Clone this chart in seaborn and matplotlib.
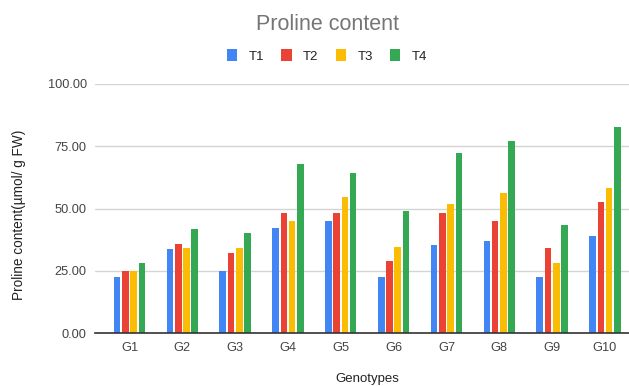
import matplotlib
matplotlib.use("Agg")
import matplotlib.pyplot as plt
import seaborn as sns
import pandas as pd

genotypes = ["G1", "G2", "G3", "G4", "G5", "G6", "G7", "G8", "G9", "G10"]
treatments = ["T1", "T2", "T3", "T4"]
t1 = [22.5, 33.7, 25.1, 42.1, 44.9, 22.5, 35.6, 36.9, 22.5, 39.0]
t2 = [25.1, 35.7, 32.4, 48.4, 48.1, 28.9, 48.1, 44.9, 34.1, 52.5]
t3 = [25.1, 34.1, 34.1, 44.9, 54.8, 34.5, 51.7, 56.1, 28.3, 58.3]
t4 = [28.3, 41.7, 40.1, 68.0, 64.2, 48.9, 72.3, 77.3, 43.6, 82.6]
yticks = [0, 25, 50, 75, 100]

colors = ["#4285F4", "#EA4335", "#FBBC04", "#34A853"]

df = pd.DataFrame({
    "Genotype": genotypes * 4,
    "Treatment": [t for t in treatments for _ in genotypes],
    "Proline": t1 + t2 + t3 + t4,
})

sns.set_theme(style="white")
plt.rcParams["font.family"] = ["Liberation Sans", "DejaVu Sans"]

fig = plt.figure(figsize=(6.29, 3.86), dpi=100)
ax = fig.add_axes([95 / 629, (386 - 333.3) / 386, 1 - 95 / 629, 249.3 / 386])

sns.barplot(data=df, x="Genotype", y="Proline", hue="Treatment",
            palette=colors, width=0.625, gap=0.2, ax=ax,
            saturation=1, linewidth=0, order=genotypes, hue_order=treatments)

ax.set_xlim(-0.653, 9.455)
ax.set_ylim(0, 100)
ax.set_yticks(yticks)
ax.set_yticklabels([f"{v:.2f}" for v in yticks])
ax.yaxis.grid(True, color="#d4d4d4", linewidth=1)
ax.set_axisbelow(True)
for s in ["top", "right", "left"]:
    ax.spines[s].set_visible(False)
ax.spines["bottom"].set_color("#333333")
ax.spines["bottom"].set_linewidth(1.2)
ax.tick_params(axis="both", length=0, labelsize=9.2, labelcolor="#444444")
ax.tick_params(axis="y", pad=6)
ax.tick_params(axis="x", pad=6)

ax.set_xlabel("Genotypes", fontsize=9.5, color="#222222")
ax.xaxis.set_label_coords((367.5 - 95) / 534, -(379 - 333.3) / 249.3)
ax.xaxis.label.set_verticalalignment("center")
ax.set_ylabel("Proline content(µmol/ g FW)", fontsize=9.8, color="#222222")
ax.yaxis.set_label_coords(-(95 - 19) / 534, (333.3 - 215) / 249.3)
ax.yaxis.label.set_verticalalignment("center")

fig.text(327.5 / 629, 1 - 24 / 386, "Proline content", ha="center", va="center",
         fontsize=15.5, color="#757575")

sns.move_legend(ax, "center", bbox_to_anchor=((327 - 95) / 534, (333.3 - 56) / 249.3),
                ncol=4, frameon=False, title=None, fontsize=9.5,
                handlelength=0.8, handleheight=1.0, handletextpad=0.85,
                columnspacing=1.3)
for txt in ax.get_legend().get_texts():
    txt.set_color("#222222")

fig.savefig("out.png", dpi=100)
